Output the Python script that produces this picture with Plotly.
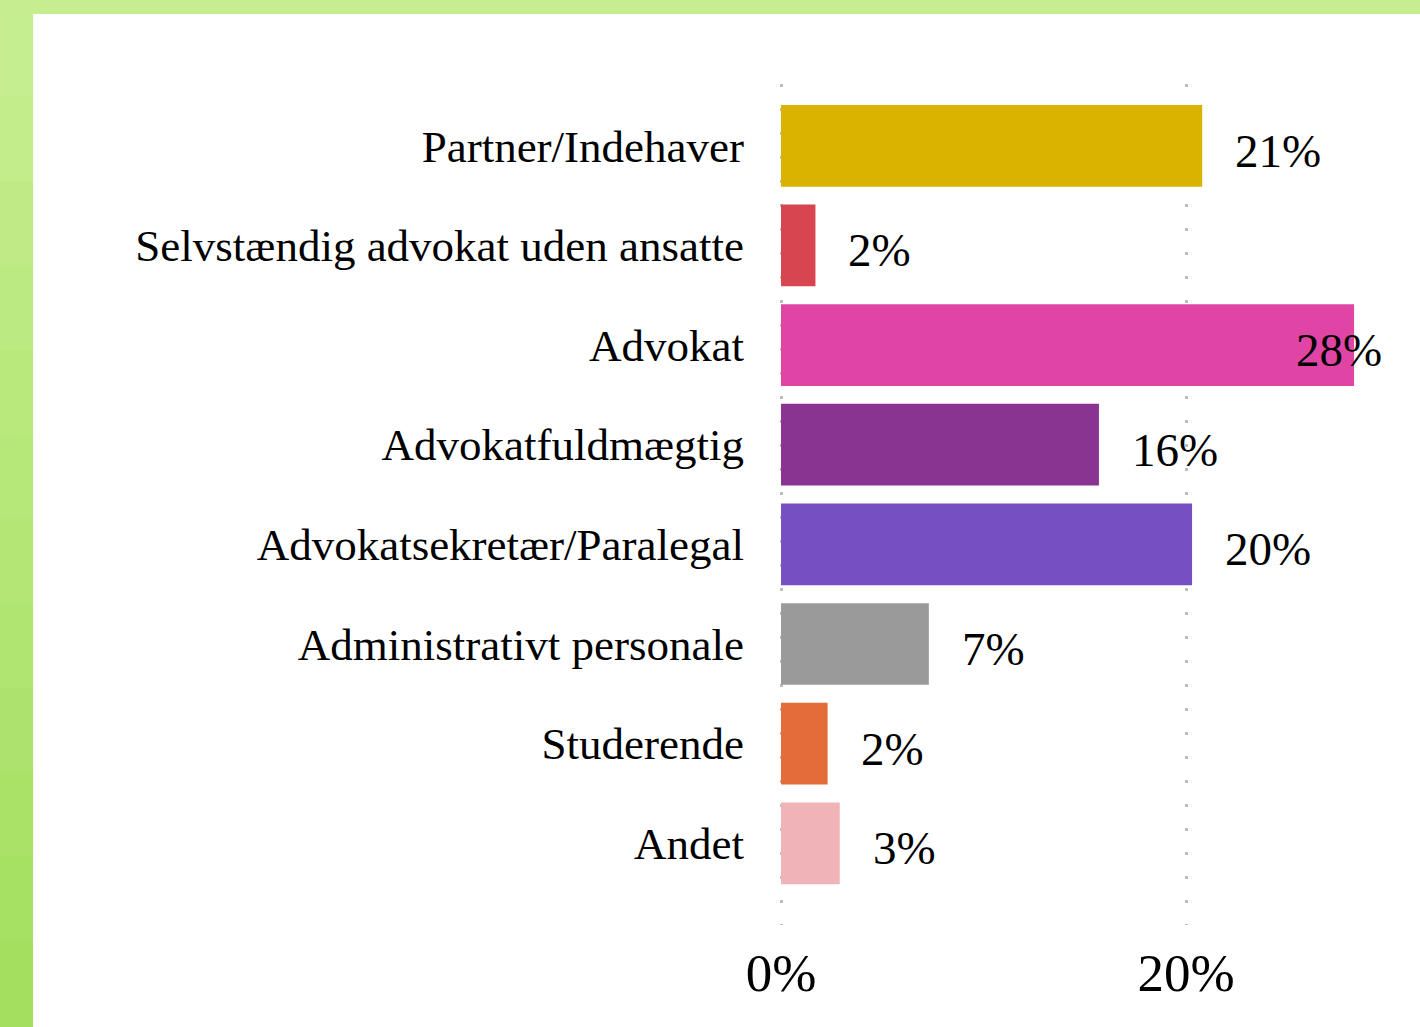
import plotly.graph_objects as go

categories = [
    "Partner/Indehaver",
    "Selvstændig advokat uden ansatte",
    "Advokat",
    "Advokatfuldmægtig",
    "Advokatsekretær/Paralegal",
    "Administrativt personale",
    "Studerende",
    "Andet",
]
values = [20.8, 1.7, 28.3, 15.7, 20.3, 7.3, 2.3, 2.9]
value_labels = ["21%", "2%", "28%", "16%", "20%", "7%", "2%", "3%"]
colors = ["#d9b300", "#d64550", "#e045a6", "#883490", "#7650c2", "#9a9a9a", "#e46c3a", "#f0b4b8"]
tick_vals = [0, 20]
tick_text = ["0%", "20%"]

W, H = 1420, 1027
PXU = 20.25          # pixels per percent
X0 = -0.1
L = 781 + X0 * PXU
R, T, B = 15, 84, 102
pw, ph = W - L - R, H - T - B

def fx(px):
    return (px - L) / pw

def fy(py):
    return 1 - (py - T) / ph

FONT = "Liberation Serif"

fig = go.Figure()
fig.add_trace(go.Bar(
    y=categories, x=values, orientation="h",
    marker=dict(color=colors, line=dict(width=0)),
    width=0.82, hoverinfo="skip",
))

annotations = []
for c, v, t in zip(categories, values, value_labels):
    inside = v > 25
    annotations.append(dict(
        x=v, y=c, xref="x", yref="y", text=t, showarrow=False,
        xanchor="right" if inside else "left",
        xshift=30 if inside else 31, yshift=-5,
        font=dict(family=FONT, size=47, color="#000"),
    ))

shapes = []
n = 12
top_c = (199, 239, 145)
bot_c = (163, 223, 94)
for i in range(n):
    y0 = 14 + (H - 14) * i / n
    y1 = 14 + (H - 14) * (i + 1) / n
    f = (i + 0.5) / n
    col = "rgb(%d,%d,%d)" % tuple(int(a + (b - a) * f) for a, b in zip(top_c, bot_c))
    shapes.append(dict(type="rect", xref="paper", yref="paper", layer="below",
                       x0=fx(0), x1=fx(33), y0=fy(y1), y1=fy(y0) + 0.002,
                       fillcolor=col, line=dict(width=0)))
shapes.append(dict(type="rect", xref="paper", yref="paper", layer="below",
                   x0=fx(33), x1=fx(W), y0=fy(H), y1=fy(14),
                   fillcolor="white", line=dict(width=0)))

fig.update_layout(
    width=W, height=H,
    margin=dict(l=L, r=R, t=T, b=B, pad=0),
    paper_bgcolor="#c6ee8f", plot_bgcolor="rgba(0,0,0,0)",
    showlegend=False,
    shapes=shapes,
    annotations=annotations,
    xaxis=dict(range=[X0, X0 + pw / PXU], tickvals=tick_vals, ticktext=tick_text,
               showgrid=True, gridcolor="#bdbdbd", gridwidth=3, griddash="3px,21px",
               zeroline=False, showline=False, ticks="", ticklabelstandoff=12,
               tickfont=dict(family=FONT, size=53, color="#000"), fixedrange=True),
    yaxis=dict(type="category", categoryorder="array", categoryarray=categories,
               range=[7.82, -0.62], showgrid=False, zeroline=False, showline=False,
               ticks="", ticklabelstandoff=34,
               tickfont=dict(family=FONT, size=45, color="#000")),
)

fig.write_html("out.html", config={"displayModeBar": False},
               post_script="document.body.style.margin='0';document.body.style.overflow='hidden';")
